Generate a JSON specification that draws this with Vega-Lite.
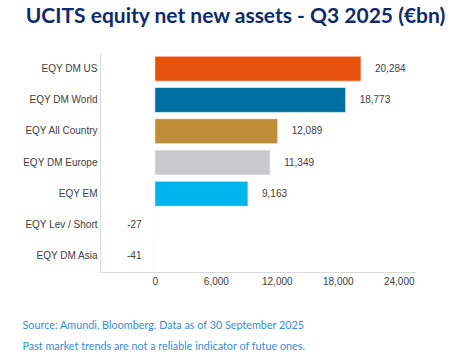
{
  "$schema": "https://vega.github.io/schema/vega-lite/v6.json",
  "autosize": {"type": "none"},
  "width": 315,
  "height": 219,
  "padding": {"left": 100, "top": 53, "right": 57, "bottom": 81},
  "background": "white",
  "title": {
    "text": "UCITS equity net new assets - Q3 2025 (€bn)",
    "font": "Lato",
    "fontSize": 21,
    "fontWeight": "bold",
    "color": "#0F2A6B",
    "anchor": "middle",
    "frame": "group",
    "dx": -22,
    "offset": 26
  },
  "data": {
    "values": [
      {"category": "EQY DM US", "value": 20284},
      {"category": "EQY DM World", "value": 18773},
      {"category": "EQY All Country", "value": 12089},
      {"category": "EQY DM Europe", "value": 11349},
      {"category": "EQY EM", "value": 9163},
      {"category": "EQY Lev / Short", "value": -27},
      {"category": "EQY DM Asia", "value": -41}
    ]
  },
  "encoding": {
    "y": {
      "field": "category",
      "type": "nominal",
      "sort": null,
      "scale": {"paddingInner": 0.2, "paddingOuter": 0.1},
      "axis": {
        "title": null,
        "ticks": false,
        "labelPadding": 3,
        "labelFont": "Liberation Sans",
        "labelFontSize": 10,
        "labelColor": "#404040",
        "domainColor": "#D9D9D9",
        "domainWidth": 1
      }
    },
    "x": {
      "field": "value",
      "type": "quantitative",
      "scale": {"domain": [-5400, 25600], "nice": false, "zero": false},
      "axis": {
        "values": [0, 6000, 12000, 18000, 24000],
        "format": ",.0f",
        "grid": false,
        "ticks": false,
        "labelPadding": 4,
        "labelFont": "Liberation Sans",
        "labelFontSize": 10,
        "labelColor": "#404040",
        "domainColor": "#D9D9D9",
        "domainWidth": 1,
        "title": ["Source: Amundi, Bloomberg. Data as of 30 September 2025", "Past market trends are not a reliable indicator of futue ones."],
        "titleFont": "Lato",
        "titleFontSize": 10.8,
        "titleFontWeight": "normal",
        "titleColor": "#3A8DD0",
        "titleAnchor": "start",
        "titleAlign": "left",
        "titleBaseline": "alphabetic",
        "titleX": -78,
        "titleY": 56,
        "titleLineHeight": 21
      }
    }
  },
  "layer": [
    {
      "mark": {"type": "bar", "stroke": "#FFFFFF", "strokeOpacity": 0.6, "strokeWidth": 1},
      "encoding": {
        "color": {
          "field": "category",
          "type": "nominal",
          "legend": null,
          "scale": {
            "domain": ["EQY DM US", "EQY DM World", "EQY All Country", "EQY DM Europe", "EQY EM", "EQY Lev / Short", "EQY DM Asia"],
            "range": ["#E8520F", "#0070A0", "#C08E38", "#C8C9CB", "#00B5EC", "#B9C6DA", "#A9B6CC"]
          }
        }
      }
    },
    {
      "transform": [{"filter": "datum.value >= 0"}],
      "mark": {"type": "text", "align": "left", "dx": 14, "font": "Liberation Sans", "fontSize": 10, "color": "#404040"},
      "encoding": {"text": {"field": "value", "type": "quantitative", "format": ",.0f"}}
    },
    {
      "transform": [{"filter": "datum.value < 0"}],
      "mark": {"type": "text", "align": "right", "dx": -13, "font": "Liberation Sans", "fontSize": 10, "color": "#404040",
        "text": {"expr": "replace(format(datum.value, ',.0f'), '\u2212', '-')"}}
    }
  ],
  "config": {"view": {"stroke": null}}
}
